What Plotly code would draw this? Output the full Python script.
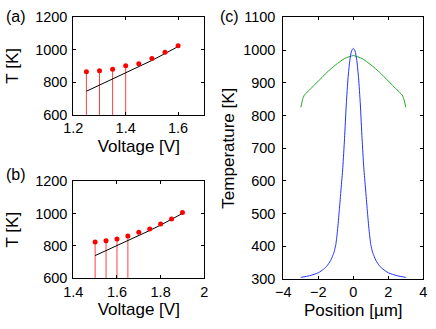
import plotly.graph_objects as go

# (a) temperature vs voltage, first device
volt_a = [1.25, 1.30, 1.35, 1.40, 1.45, 1.50, 1.55, 1.60]
temp_a = [864, 870, 879, 901, 913, 945, 983, 1023]
fit_a = [745, 782, 818, 855, 893, 933, 975, 1018]
n_stem_a = 4

# (b) temperature vs voltage, second device
volt_b = [1.50, 1.55, 1.60, 1.65, 1.70, 1.75, 1.80, 1.85, 1.90]
temp_b = [824, 832, 842, 861, 884, 904, 935, 966, 1005]
fit_b = [740, 770, 801, 832, 862, 895, 928, 963, 1000]
n_stem_b = 4

# (c) temperature profiles along position
pos_blue = [-3.0, -2.5, -2.0, -1.7, -1.5, -1.3, -1.2, -1.1, -1.0, -0.9, -0.8, -0.7, -0.6, -0.5, -0.4,
            -0.3, -0.2, -0.1, 0.0, 0.1, 0.2, 0.3, 0.4, 0.5, 0.6, 0.7, 0.8, 0.9, 1.0, 1.1, 1.2, 1.3,
            1.5, 1.7, 2.0, 2.5, 3.0]
temp_blue = [305, 310, 319, 330, 340, 356, 368, 382, 405, 450, 510, 575, 640, 730, 835,
             915, 968, 997, 1005, 997, 968, 915, 835, 730, 640, 575, 510, 450, 405, 382, 368, 356,
             340, 330, 319, 310, 305]
pos_green = [-3.0, -2.9, -2.8, -2.5, -2.0, -1.5, -1.0, -0.5, 0.0, 0.5, 1.0, 1.5, 2.0, 2.5, 2.8, 2.9, 3.0]
temp_green = [825, 848, 862, 878, 905, 932, 955, 974, 983, 974, 955, 932, 905, 878, 862, 848, 825]

W, H = 436, 329
FONT = "Liberation Sans, Arial, sans-serif"


def stems(xs, ys, n, base=600):
    sx, sy = [], []
    for x, y in zip(xs[:n], ys[:n]):
        sx += [x, x, None]
        sy += [base, y, None]
    return sx, sy


fig = go.Figure()

for (xs, ys, fit, n, ax) in [(volt_a, temp_a, fit_a, n_stem_a, ""), (volt_b, temp_b, fit_b, n_stem_b, "2")]:
    sx, sy = stems(xs, ys, n)
    fig.add_trace(go.Scatter(x=sx, y=sy, mode="lines", line=dict(color="#ff4040", width=1),
                             xaxis="x" + ax, yaxis="y" + ax, showlegend=False))
    fig.add_trace(go.Scatter(x=xs, y=fit, mode="lines", line=dict(color="black", width=1),
                             xaxis="x" + ax, yaxis="y" + ax, showlegend=False))
    fig.add_trace(go.Scatter(x=xs, y=ys, mode="markers", marker=dict(color="red", size=5),
                             xaxis="x" + ax, yaxis="y" + ax, showlegend=False))

fig.add_trace(go.Scatter(x=pos_green, y=temp_green, mode="lines",
                         line=dict(color="#22aa22", width=1, shape="spline", smoothing=0.5),
                         xaxis="x3", yaxis="y3", showlegend=False))
fig.add_trace(go.Scatter(x=pos_blue, y=temp_blue, mode="lines",
                         line=dict(color="#2233ff", width=1, shape="spline", smoothing=0.6),
                         xaxis="x3", yaxis="y3", showlegend=False))

axis_style = dict(showline=True, linecolor="black", linewidth=1, mirror="ticks", ticks="inside",
                  ticklen=3, tickcolor="black", showgrid=False, zeroline=False, automargin=False,
                  tickfont=dict(size=14.5, color="black"))

label_style = dict(xref="paper", yref="paper", showarrow=False, xanchor="center", yanchor="middle",
                   font=dict(size=16))

fig.update_layout(
    width=W, height=H, margin=dict(l=0, r=0, t=0, b=0, pad=0, autoexpand=False),
    paper_bgcolor="white", plot_bgcolor="white",
    font=dict(family=FONT, size=14.5, color="black"),
    xaxis=dict(axis_style, domain=[73.3 / W, 204.3 / W], range=[1.2, 1.7], tickvals=[1.2, 1.4, 1.6],
               ticktext=["1.2", "1.4", "1.6"], anchor="y",
               title=dict(text="Voltage [V]", standoff=4)),
    yaxis=dict(axis_style, domain=[1 - 115 / H, 1 - 16.7 / H], range=[600, 1200],
               tickvals=[600, 800, 1000, 1200], anchor="x", ticklabelstandoff=2,
               title=dict(text="T [K]", standoff=12)),
    xaxis2=dict(axis_style, domain=[73.3 / W, 204.3 / W], range=[1.4, 2.0], tickvals=[1.4, 1.6, 1.8, 2.0],
                ticktext=["1.4", "1.6", "1.8", "2"], anchor="y2",
                title=dict(text="Voltage [V]", standoff=4)),
    yaxis2=dict(axis_style, domain=[1 - 278.3 / H, 1 - 181 / H], range=[600, 1200],
                tickvals=[600, 800, 1000, 1200], anchor="x2", ticklabelstandoff=2,
                title=dict(text="T [K]", standoff=12)),
    xaxis3=dict(axis_style, domain=[283.3 / W, 423.3 / W], range=[-4, 4], tickvals=[-4, -2, 0, 2, 4],
                anchor="y3", title=dict(text="Position [µm]", standoff=4)),
    yaxis3=dict(axis_style, domain=[1 - 279 / H, 1 - 17.3 / H], range=[300, 1100],
                tickvals=list(range(300, 1101, 100)), anchor="x3", ticklabelstandoff=4,
                title=dict(text="Temperature [K]", standoff=4)),
    annotations=[
        dict(label_style, text="(a)", x=16 / W, y=1 - 17 / H),
        dict(label_style, text="(b)", x=16 / W, y=1 - 174 / H),
        dict(label_style, text="(c)", x=229 / W, y=1 - 17 / H),
    ],
)

fig.write_html("out.html", config={"displayModeBar": False},
               post_script="document.body.style.margin='0';")
